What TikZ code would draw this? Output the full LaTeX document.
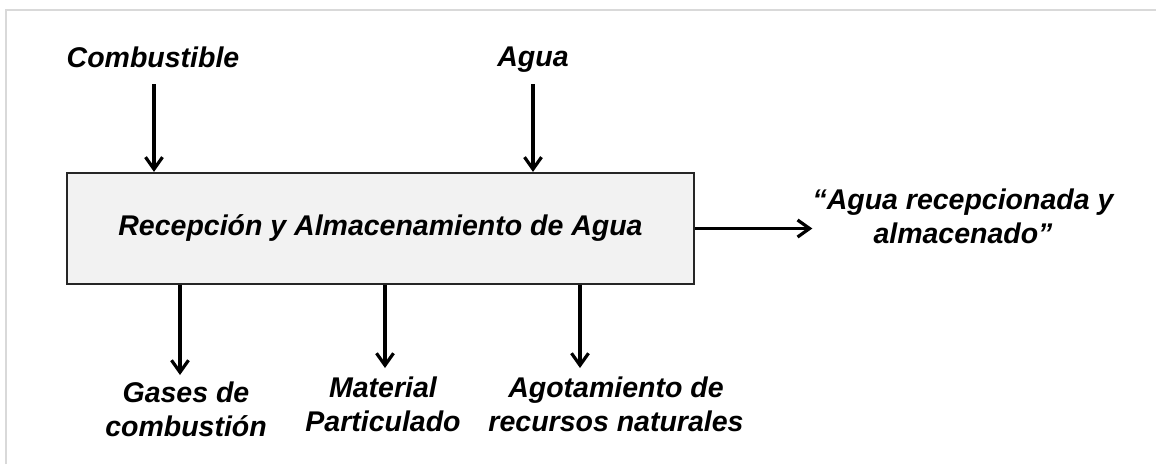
\documentclass[tikz,border=0pt]{standalone}
\usepackage{fontspec}
\setmainfont{Liberation Sans}
\usetikzlibrary{arrows.meta,positioning}
\definecolor{cajagris}{HTML}{F2F2F2}
\definecolor{marcogris}{HTML}{D9D9D9}
\tikzset{
    texto/.style={font=\fontsize{28.5}{34}\selectfont\bfseries\itshape, inner sep=0pt, align=center},
    flecha/.style={line width=3.2pt, -{Straight Barb[length=12pt,width=17pt]}},
    proceso/.style={draw=black!85, line width=2.2pt, fill=cajagris, minimum width=627pt, minimum height=111pt},
  }

\begin{document}
\begin{tikzpicture}[x=1pt,y=-1pt]
				  \useasboundingbox (0,0) rectangle (1156,464);
				  %marco
				  \draw[marcogris, line width=2pt] (6,464) -- (6,9.5) -- (1156,9.5);
				  %PROCESO
				  \node[proceso, texto] (P) at (380.5,228.5) {Recepción y Almacenamiento de Agua};
				  %entradas
				  \node[texto, anchor=base] (comb) at (153,67) {Combustible};
				  \node[texto, anchor=base] (agua) at (533,66) {Agua};
				  \coordinate (e1) at (154,84);
				  \coordinate (e2) at (533,84);
				  \draw[flecha] (e1) -- (e1 |- P.north);
				  \draw[flecha] (e2) -- (e2 |- P.north);
				  %salida
				  \node[texto] (agrec) at (963,216.5) {“Agua recepcionada y\\almacenado”};
				  \draw[flecha] (P.east) -- (P.east -| agrec.west);
				  %residuos
				  \node[texto] (gases) at (186,409.5) {Gases de\\combustión};
				  \node[texto] (mat) at (383,404) {Material\\Particulado};
				  \node[texto] (agot) at (616,404) {Agotamiento de\\recursos naturales};
				  \coordinate (s1) at (180,375);
				  \coordinate (s2) at (385,368);
				  \coordinate (s3) at (580,368);
				  \draw[flecha] (s1 |- P.south) -- (s1);
				  \draw[flecha] (s2 |- P.south) -- (s2);
				  \draw[flecha] (s3 |- P.south) -- (s3);
				  \end{tikzpicture}
\end{document}
